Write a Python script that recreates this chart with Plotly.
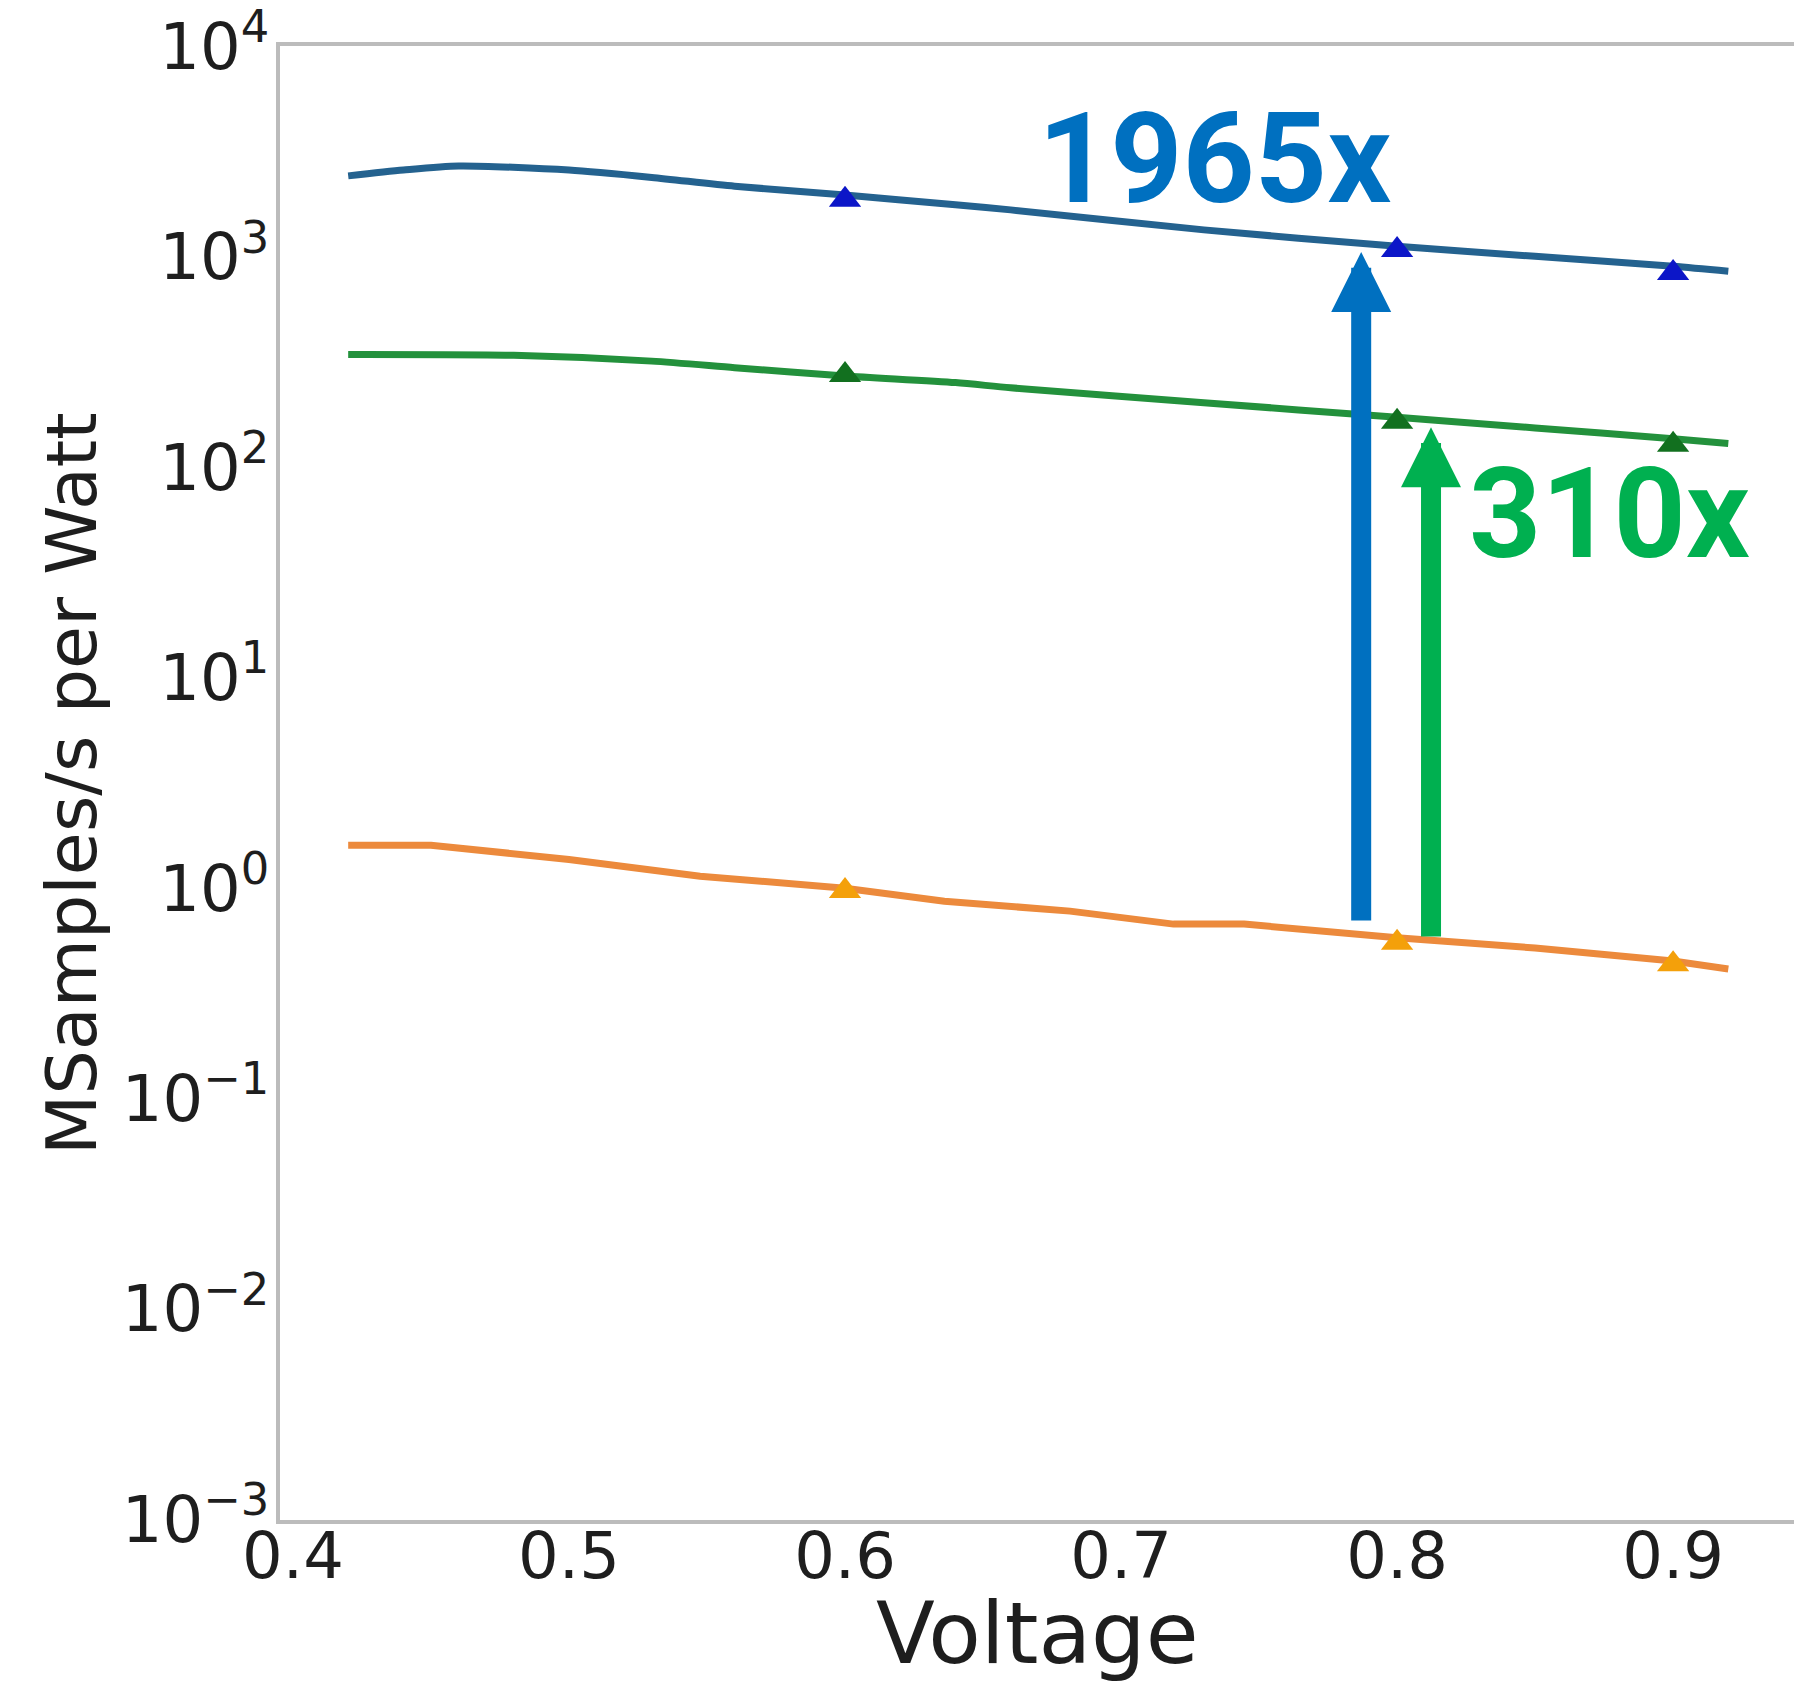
import math
import plotly.graph_objects as go

# ---- data ----
blue_x = [0.42, 0.44, 0.46, 0.50, 0.53, 0.56, 0.60, 0.64, 0.66, 0.73, 0.80, 0.85, 0.90, 0.92]
blue_y = [2430, 2590, 2710, 2590, 2390, 2170, 1970, 1770, 1675, 1346, 1124, 1008, 903, 855]

green_x = [0.42, 0.48, 0.53, 0.56, 0.60, 0.64, 0.66, 0.73, 0.80, 0.85, 0.90, 0.92]
green_y = [344, 341, 320, 298, 272, 253, 239, 203, 173, 154, 137, 130]

orange_x = [0.42, 0.45, 0.50, 0.5475, 0.60, 0.636, 0.6815, 0.719, 0.7446, 0.80, 0.85, 0.90, 0.92]
orange_y = [1.60, 1.60, 1.37, 1.14, 1.00, 0.867, 0.778, 0.675, 0.675, 0.581, 0.52, 0.451, 0.413]

marker_x = [0.6, 0.8, 0.9]
blue_marker_y = [1870, 1080, 840]
green_marker_y = [275, 165, 128]
orange_marker_y = [0.97, 0.55, 0.435]

x_ticks = [0.4, 0.5, 0.6, 0.7, 0.8, 0.9]
x_ticktext = ["0.4", "0.5", "0.6", "0.7", "0.8", "0.9"]
y_exps = [-3, -2, -1, 0, 1, 2, 3, 4]

# arrows (x position, bottom value, tip value) and labels
blue_arrow = (0.787, 0.69, 1056)
green_arrow = (0.8123, 0.58, 155)
blue_label = ("1965x", 0.734, 10 ** 3.464)
green_label = ("310x", 0.877, 10 ** 1.777)

BLUE_LINE = "#24628f"
GREEN_LINE = "#23913c"
ORANGE_LINE = "#ec8a3c"
BLUE_MK = "#0c16c8"
GREEN_MK = "#12701f"
ORANGE_MK = "#f4a00a"
ARROW_BLUE = "#0070c0"
ARROW_GREEN = "#00b050"
TXT = "#1e1e1e"

fig = go.Figure()
for xs, ys, col, shape in [(blue_x, blue_y, BLUE_LINE, "spline"),
                           (green_x, green_y, GREEN_LINE, "spline"),
                           (orange_x, orange_y, ORANGE_LINE, "linear")]:
    fig.add_trace(go.Scatter(x=xs, y=ys, mode="lines",
                             line=dict(color=col, width=7, shape=shape, smoothing=0.7),
                             showlegend=False, hoverinfo="skip"))
for ys, col in [(blue_marker_y, BLUE_MK), (green_marker_y, GREEN_MK),
                (orange_marker_y, ORANGE_MK)]:
    fig.add_trace(go.Scatter(x=marker_x, y=ys, mode="markers",
                             marker=dict(symbol="triangle-up", size=28, color=col,
                                         line=dict(width=0)),
                             showlegend=False, hoverinfo="skip"))

annotations = []
for (ax_x, y0, y1), col in [(blue_arrow, ARROW_BLUE), (green_arrow, ARROW_GREEN)]:
    annotations.append(dict(
        x=ax_x, y=math.log10(y1), xref="x", yref="y",
        ax=ax_x, ay=math.log10(y0), axref="x", ayref="y",
        text="", showarrow=True, arrowhead=2, arrowsize=0.6, arrowwidth=20,
        arrowcolor=col, standoff=0, startstandoff=0, font=dict(size=1)))

for (txt, lx, ly), col in [(blue_label, ARROW_BLUE), (green_label, ARROW_GREEN)]:
    annotations.append(dict(
        x=lx, y=math.log10(ly), xref="x", yref="y", text="<b>%s</b>" % txt,
        showarrow=False, xanchor="center", yanchor="middle",
        font=dict(family="Roboto", size=126, color=col)))

# axis titles
annotations.append(dict(x=-0.1374, y=0.5, xref="paper", yref="paper",
                        text="MSamples/s per Watt", textangle=-90, showarrow=False,
                        xanchor="center", yanchor="middle",
                        font=dict(family="DejaVu Sans", size=70, color=TXT)))
annotations.append(dict(x=0.5, y=-0.0765, xref="paper", yref="paper",
                        text="Voltage", showarrow=False,
                        xanchor="center", yanchor="middle",
                        font=dict(family="DejaVu Sans", size=86, color=TXT)))

y_ticktext = []
for e in y_exps:
    s = str(e).replace("-", "\u2212")
    y_ticktext.append("10<sup>%s</sup>" % s)

fig.update_layout(
    width=1794, height=1687,
    margin=dict(l=280, r=0, t=43, b=167, pad=0),
    paper_bgcolor="white", plot_bgcolor="white",
    annotations=annotations,
    xaxis=dict(range=[0.3953, 0.9438], tickvals=x_ticks, ticktext=x_ticktext,
               showgrid=False, zeroline=False, showline=True, linecolor="#bcbcbc",
               linewidth=4, mirror=True, ticks="", ticklabelstandoff=-23,
               ticklabeloverflow="allow",
               tickfont=dict(family="DejaVu Sans", size=64, color=TXT)),
    yaxis=dict(type="log", range=[-3.003, 4.003], tickvals=[10 ** e for e in y_exps],
               ticktext=y_ticktext, showgrid=False, zeroline=False, showline=True,
               linecolor="#bcbcbc", linewidth=4, mirror=False, ticks="",
               ticklabelstandoff=-6, ticklabeloverflow="allow",
               tickfont=dict(family="DejaVu Sans", size=64, color=TXT)),
)

fig.write_html("out.html")
